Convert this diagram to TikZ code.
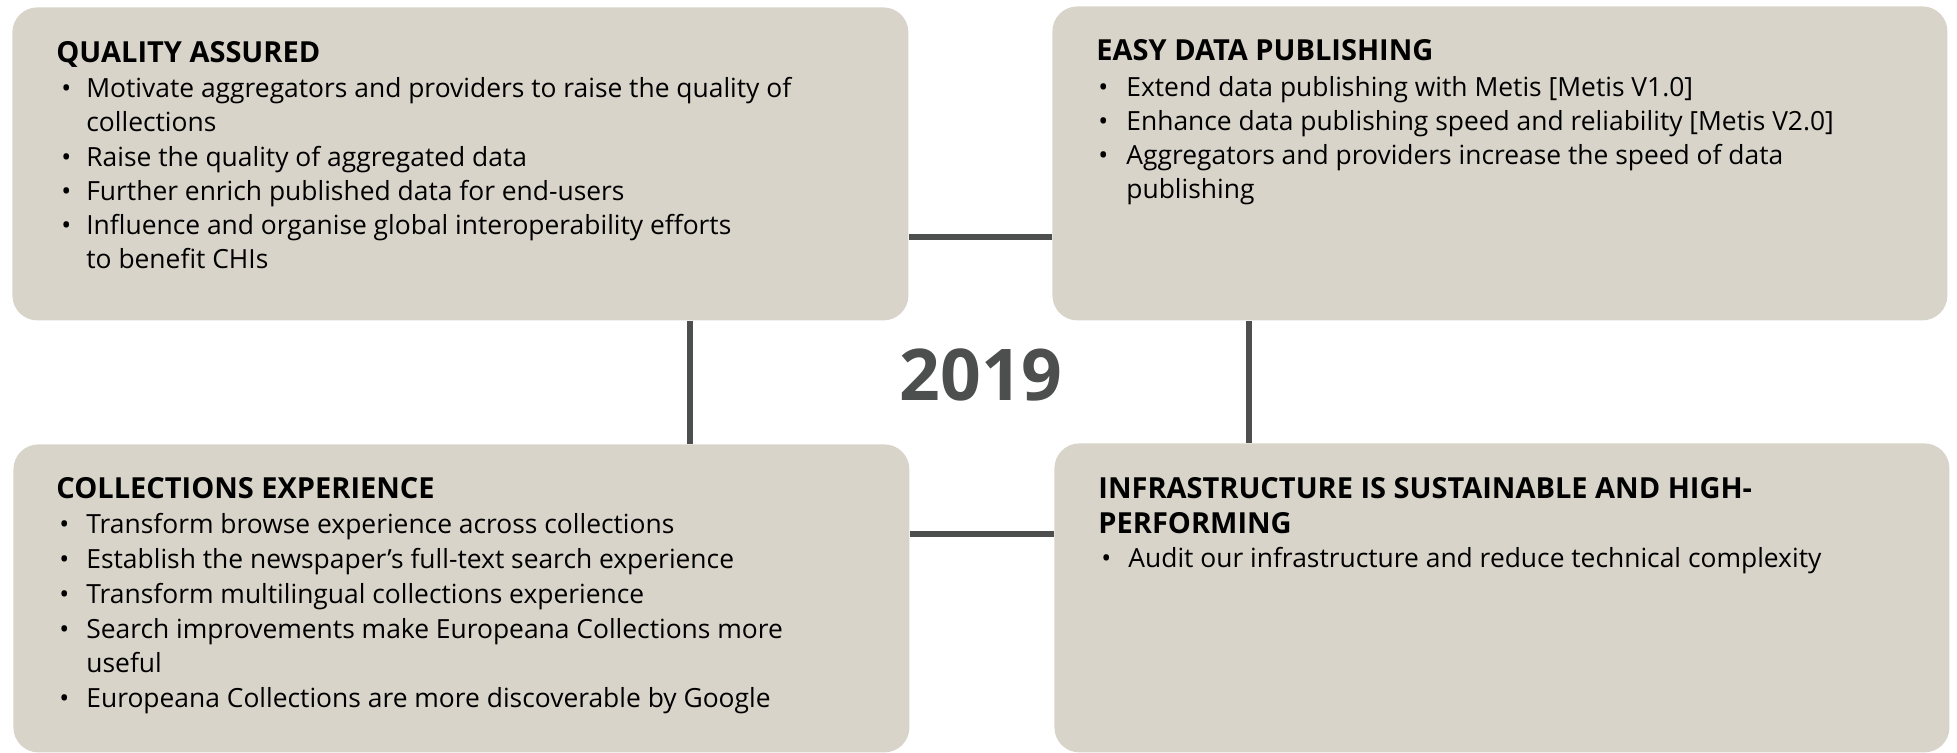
\documentclass[tikz,border=0pt]{standalone}
\usepackage{fontspec}
\setmainfont{Open Sans}
\definecolor{boxfill}{RGB}{216,212,202}
\definecolor{linegray}{RGB}{77,79,79}
\newcommand\bul[1]{\makebox[#1][l]{\textbullet}}
\begin{document}
\begin{tikzpicture}[x=0.5pt,y=-0.5pt,
  box/.style={fill=boxfill,draw=none,rounded corners=12.5pt,anchor=north west,inner sep=0pt},
  conn/.style={draw=linegray,line width=3pt},
  ttl/.style={anchor=base west,inner sep=0pt,font=\fontsize{14.5}{17}\selectfont\bfseries},
  btx/.style={anchor=base west,inner sep=0pt,font=\fontsize{13.2}{16}\selectfont},
  year/.style={anchor=base,inner sep=0pt,text=linegray,font=\fontsize{35.7}{40}\selectfont\bfseries}]
\useasboundingbox (0,0) rectangle (1957,753);
% boxes
\node[box,minimum width=448pt,minimum height=156.5pt] (qa) at (12,7) {};
\node[box,minimum width=447.5pt,minimum height=157pt] (ed) at (1052,6) {};
\node[box,minimum width=448pt,minimum height=154pt] (ce) at (13,444) {};
\node[box,minimum width=447.5pt,minimum height=154.5pt] (in) at (1054,443) {};
% connectors
\draw[conn] (qa.east |- 0,237) -- (ed.west |- 0,237);
\draw[conn] (ce.east |- 0,534) -- (in.west |- 0,534);
\draw[conn] (qa.south -| 690,0) -- (ce.north -| 690,0);
\draw[conn] (ed.south -| 1249,0) -- (in.north -| 1249,0);
% year
\node[year] (yr) at (981,400) {2019};
% quality assured
\node[ttl] (qat) at (56,63) {QUALITY ASSURED};
\node[btx] (qa1) at (61,98) {\bul{12.5pt}Motivate aggregators and providers to raise the quality of};
\node[btx] (qa1b) at (86,132) {collections};
\node[btx] (qa2) at (61,167) {\bul{12.5pt}Raise the quality of aggregated data};
\node[btx] (qa3) at (61,201) {\bul{12.5pt}Further enrich published data for end-users};
\node[btx] (qa4) at (61,235) {\bul{12.5pt}Influence and organise global interoperability efforts};
\node[btx] (qa4b) at (86,269) {to benefit CHIs};
% easy data publishing
\node[ttl] (edt) at (1096,61) {EASY DATA PUBLISHING};
\node[btx] (ed1) at (1098,97) {\bul{14pt}Extend data publishing with Metis [Metis V1.0]};
\node[btx] (ed2) at (1098,131) {\bul{14pt}Enhance data publishing speed and reliability [Metis V2.0]};
\node[btx] (ed3) at (1098,165) {\bul{14pt}Aggregators and providers increase the speed of data};
\node[btx] (ed3b) at (1126,199) {publishing};
% collections experience
\node[ttl] (cet) at (56,498) {COLLECTIONS EXPERIENCE};
\node[btx] (ce1) at (59,533) {\bul{13.5pt}Transform browse experience across collections};
\node[btx] (ce2) at (59,568) {\bul{13.5pt}Establish the newspaper’s full-text search experience};
\node[btx] (ce3) at (59,603) {\bul{13.5pt}Transform multilingual collections experience};
\node[btx] (ce4) at (59,638) {\bul{13.5pt}Search improvements make Europeana Collections more};
\node[btx] (ce4b) at (86,672) {useful};
\node[btx] (ce5) at (59,707) {\bul{13.5pt}Europeana Collections are more discoverable by Google};
% infrastructure
\node[ttl] (int) at (1098,498) {INFRASTRUCTURE IS SUSTAINABLE AND HIGH-};
\node[ttl] (int2) at (1098,533) {PERFORMING};
\node[btx] (in1) at (1101,567) {\bul{13.5pt}Audit our infrastructure and reduce technical complexity};
\end{tikzpicture}
\end{document}
